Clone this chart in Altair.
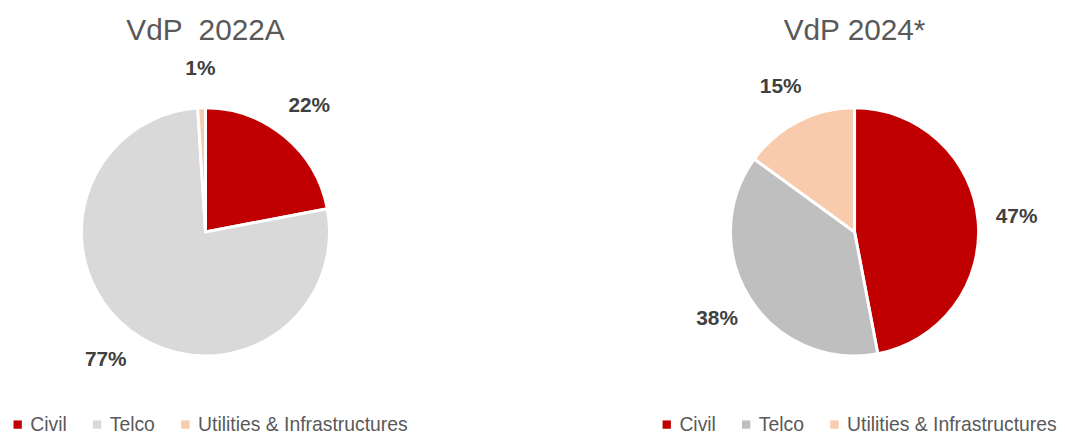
import altair as alt
import pandas as pd

categories = ["Civil", "Telco", "Utilities & Infrastructures"]
values_2022 = [22, 77, 1]
values_2024 = [47, 38, 15]
colors_2022 = ["#C00000", "#D9D9D9", "#F8CBAD"]
colors_2024 = ["#C00000", "#BFBFBF", "#F8CBAD"]
titles = ["VdP \u00a02022A", "VdP 2024*"]

FONT = "Liberation Sans"


def panel(values, colors, title):
    df = pd.DataFrame({
        "category": categories,
        "value": values,
        "order": list(range(len(categories))),
        "label": [f"{v}%" for v in values],
    })
    base = alt.Chart(df).encode(
        theta=alt.Theta("value:Q", stack=True),
        order=alt.Order("order:Q"),
    )
    color = alt.Color(
        "category:N",
        scale=alt.Scale(domain=categories, range=colors),
        legend=alt.Legend(
            title=None,
            orient="bottom",
            direction="horizontal",
            symbolType="square",
            symbolSize=70,
            symbolStrokeWidth=0,
            labelFont=FONT,
            labelFontSize=19.5,
            labelColor="#595959",
            labelLimit=0,
            columnPadding=20,
            labelOffset=3,
            offset=9,
            padding=0,
        ),
    )
    arcs = base.mark_arc(radius=125, stroke="white", strokeWidth=3).encode(color=color)
    text = base.mark_text(
        radius=164, font=FONT, fontSize=21, fontWeight="bold", color="#404040"
    ).encode(text="label:N")
    return (arcs + text).properties(
        width=398,
        height=350,
        title=alt.TitleParams(
            title, font=FONT, fontSize=30, fontWeight="normal", color="#595959",
            anchor="middle", offset=12,
        ),
    )


chart = alt.hconcat(
    panel(values_2022, colors_2022, titles[0]),
    panel(values_2024, colors_2024, titles[1]),
    spacing=251,
).resolve_scale(color="independent").configure_view(stroke=None).properties(
    padding={"left": 0, "right": 0, "top": 7, "bottom": 0}
)

chart.save("out.html", embed_options={"renderer": "svg", "actions": False})
